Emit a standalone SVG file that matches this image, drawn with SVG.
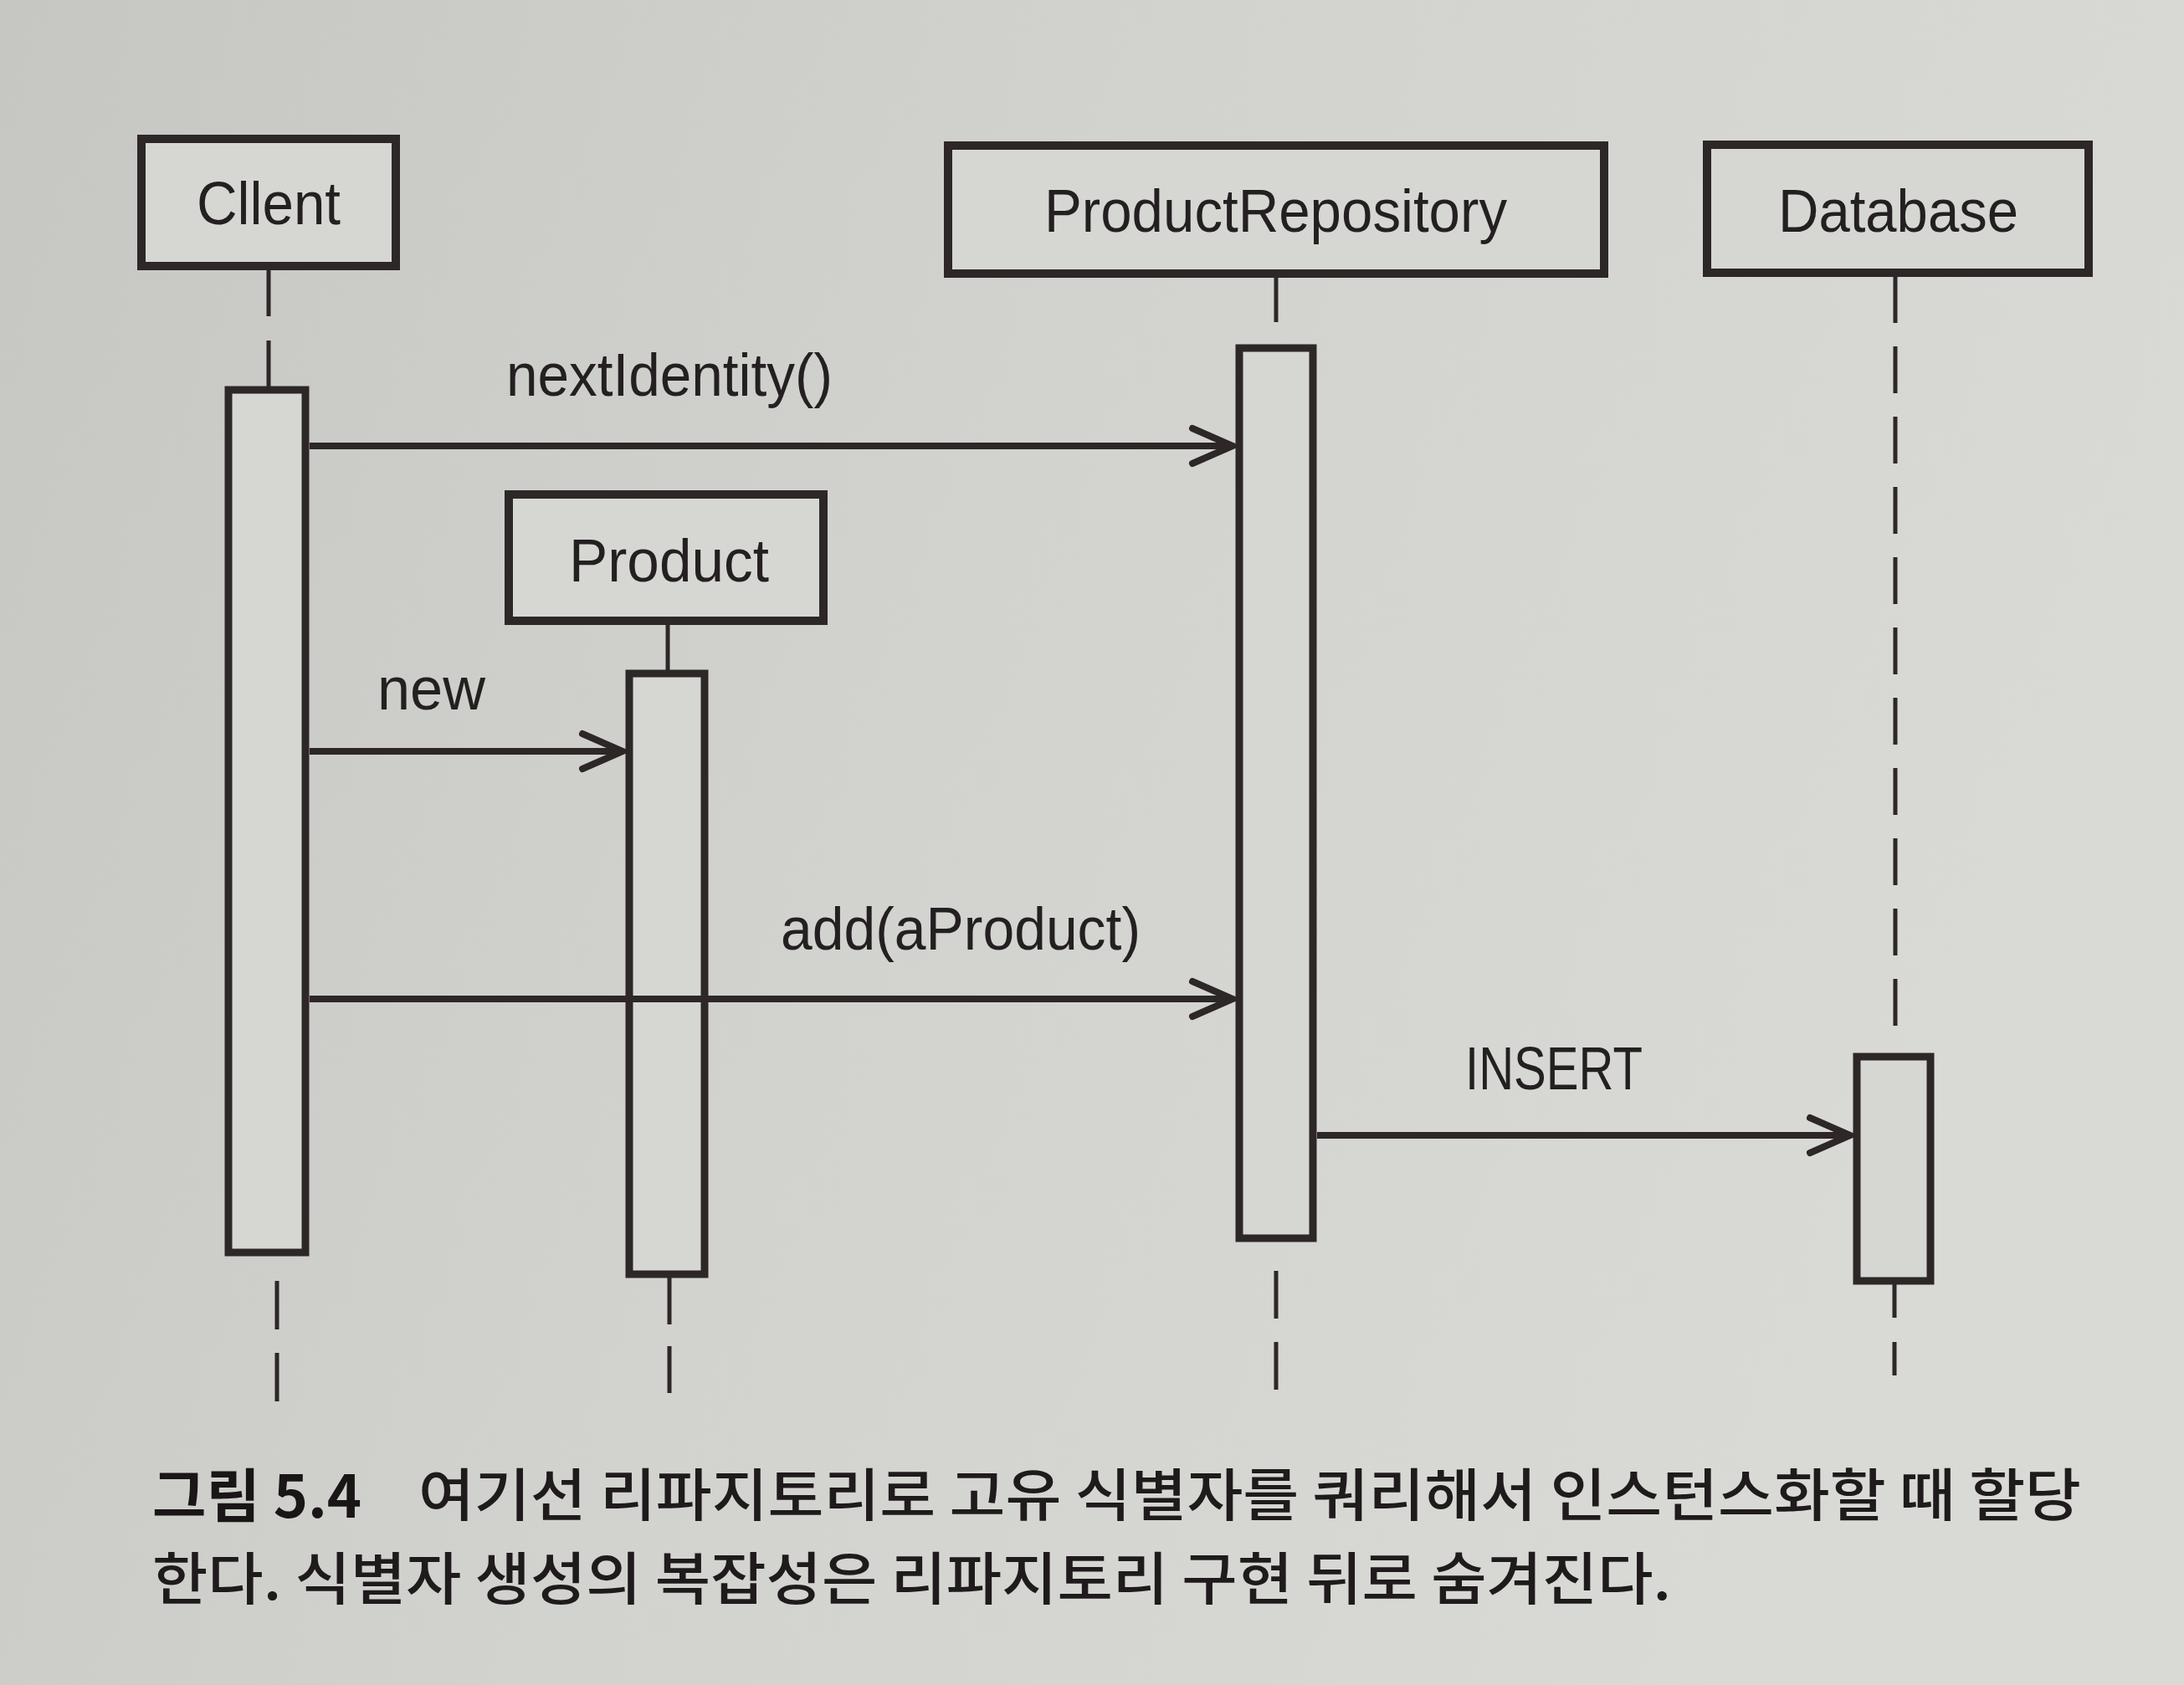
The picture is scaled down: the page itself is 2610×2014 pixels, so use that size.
<svg xmlns="http://www.w3.org/2000/svg" width="2610" height="2014" viewBox="0 0 2610 2014">
  <defs>
    <linearGradient id="paper" x1="0" y1="0" x2="1" y2="0.3">
      <stop offset="0" stop-color="#c6c7c2"/>
      <stop offset="0.5" stop-color="#d2d3ce"/>
      <stop offset="1" stop-color="#d9dad5"/>
    </linearGradient>
    <marker id="open" markerUnits="userSpaceOnUse" markerWidth="70" markerHeight="60" viewBox="-60 -30 70 60" refX="0" refY="0" orient="auto">
      <path d="M-48,-21 L0,0 L-48,21" fill="none" stroke="#2d2728" stroke-width="8" stroke-linecap="round" stroke-linejoin="miter"/>
    </marker>
    <style>
      .box { fill: #d6d7d2; stroke: #2d2728; stroke-width: 10; }
      .act { fill: #d6d7d2; stroke: #2d2728; stroke-width: 9; }
      .life { stroke: #2d2728; stroke-width: 5; fill: none; }
      .msg { stroke: #2d2728; stroke-width: 8; fill: none; marker-end: url(#open); }
      .lbl { font-family: "Liberation Sans", Arial, Helvetica, sans-serif; font-size: 72px; fill: #241f21; }
      .cap { font-family: "Noto Sans CJK KR", "Noto Sans", sans-serif; font-size: 68px; font-weight: 500; fill: #1f1a1c; }
      .capb { font-family: "Noto Sans CJK KR", "Noto Sans", sans-serif; font-size: 70px; font-weight: bold; fill: #1a1517; }
    </style>
  </defs>

  <rect x="0" y="0" width="2610" height="2014" fill="url(#paper)"/>

  <!-- lifelines -->
  <g id="lifelines">
    <line class="life" x1="321" y1="323" x2="321" y2="462" stroke-dasharray="55 29"/>
    <line class="life" x1="331" y1="1531" x2="331" y2="1675" stroke-dasharray="58 28"/>
    <line class="life" x1="798" y1="747" x2="798" y2="801"/>
    <line class="life" x1="800" y1="1527" x2="800" y2="1666" stroke-dasharray="56 26"/>
    <line class="life" x1="1525" y1="332" x2="1525" y2="385"/>
    <line class="life" x1="1525" y1="1519" x2="1525" y2="1661" stroke-dasharray="57 28"/>
    <line class="life" x1="2265" y1="330" x2="2265" y2="1228" stroke-dasharray="56 28"/>
    <line class="life" x1="2264" y1="1535" x2="2264" y2="1660" stroke-dasharray="40 29"/>
  </g>

  <g id="client">
    <rect class="box" x="169" y="166" width="304" height="152"/>
    <text class="lbl" x="235" y="268" textLength="172" lengthAdjust="spacingAndGlyphs">Cllent</text>
    <rect class="act" x="273" y="466" width="92" height="1031"/>
  </g>

  <g id="productRepository">
    <rect class="box" x="1133" y="174" width="784" height="153"/>
    <text class="lbl" x="1248" y="277" textLength="553" lengthAdjust="spacingAndGlyphs">ProductRepository</text>
    <rect class="act" x="1481" y="416" width="88" height="1064"/>
  </g>

  <g id="database">
    <rect class="box" x="2040" y="173" width="456" height="153"/>
    <text class="lbl" x="2125" y="277" textLength="287" lengthAdjust="spacingAndGlyphs">Database</text>
    <rect class="act" x="2219" y="1263" width="88" height="268"/>
  </g>

  <g id="product">
    <rect class="box" x="608" y="591" width="376" height="151"/>
    <text class="lbl" x="680" y="695" textLength="239" lengthAdjust="spacingAndGlyphs">Product</text>
    <rect class="act" x="752" y="805" width="90" height="718"/>
  </g>

  <g id="connectors">
    <line class="msg" x1="370" y1="533" x2="1473" y2="533"/>
    <text class="lbl" x="605" y="473" textLength="390" lengthAdjust="spacingAndGlyphs">nextIdentity()</text>
    <line class="msg" x1="370" y1="898" x2="744" y2="898"/>
    <text class="lbl" x="451" y="848" textLength="129" lengthAdjust="spacingAndGlyphs">new</text>
    <line class="msg" x1="370" y1="1194" x2="1473" y2="1194"/>
    <text class="lbl" x="933" y="1135" textLength="430" lengthAdjust="spacingAndGlyphs">add(aProduct)</text>
    <line class="msg" x1="1574" y1="1357" x2="2211" y2="1357"/>
    <text class="lbl" x="1751" y="1302" textLength="212" lengthAdjust="spacingAndGlyphs">INSERT</text>
  </g>

  <g id="caption">
    <text class="capb" x="182" y="1814">그림 5.4</text>
    <text class="cap" x="500" y="1812" textLength="1987" lengthAdjust="spacingAndGlyphs">여기선 리파지토리로 고유 식별자를 쿼리해서 인스턴스화할 때 할당</text>
    <text class="cap" x="182" y="1912" textLength="1815" lengthAdjust="spacingAndGlyphs">한다. 식별자 생성의 복잡성은 리파지토리 구현 뒤로 숨겨진다.</text>
  </g>
</svg>
